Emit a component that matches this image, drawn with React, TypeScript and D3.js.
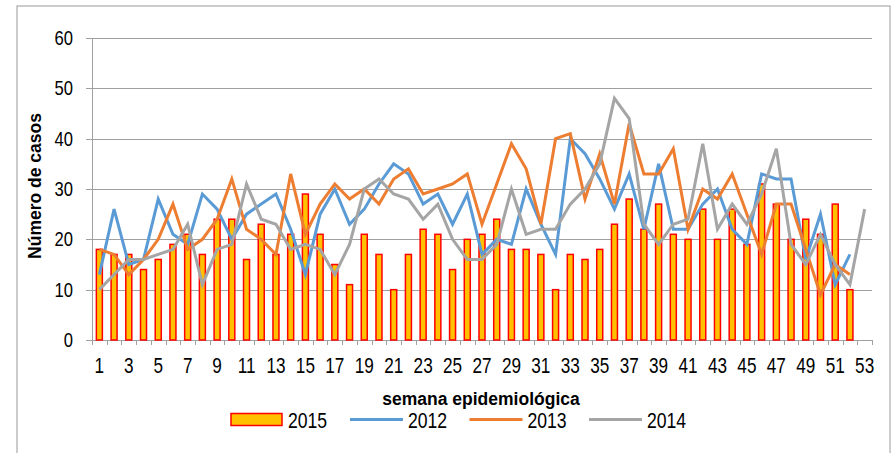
import React from "react";
import * as d3 from "d3";

const weeks: number[] = Array.from({ length: 53 }, (_, i) => i + 1);
const tickLabels: number[] = [1,3,5,7,9,11,13,15,17,19,21,23,25,27,29,31,33,35,37,39,41,43,45,47,49,51,53];
const yTicks: number[] = [0, 10, 20, 30, 40, 50, 60];

const cases2015: (number | null)[] = [18,17,17,14,16,19,21,17,24,24,16,23,17,21,29,21,15,11,21,17,10,17,22,21,14,20,21,24,18,18,17,10,17,16,18,23,28,22,27,21,20,26,20,26,19,31,27,20,24,21,27,10,null];
const cases2012: (number | null)[] = [13,26,15,16,28,21,19,29,26,20,25,27,29,22,13,25,30,23,26,31,35,33,27,29,23,29,17,20,19,30,23,17,40,37,32,26,33,22,35,22,22,27,30,22,19,33,32,32,16,25,11,17,null];
const cases2013: (number | null)[] = [18,17,13,16,20,27,18,20,24,32,22,20,17,33,21,27,31,28,30,27,32,34,29,30,31,33,23,31,39,34,23,40,41,28,37,27,43,33,33,38,22,30,28,33,25,17,27,27,18,9,15,13,null];
const cases2014: (number | null)[] = [10,13,16,16,17,18,23,11,18,19,31,24,23,18,19,18,13,19,30,32,29,28,24,27,20,16,16,19,30,21,22,22,27,30,35,48,44,23,19,23,24,39,22,27,23,29,38,19,15,21,15,11,26];

const seriesNames = ["2015", "2012", "2013", "2014"];
const lineColors: Record<string, string> = { "2012": "#5B9BD5", "2013": "#ED7D31", "2014": "#A5A5A5" };

const W = 892, H = 453;
const left = 92, right = 872, top = 38, bottom = 340;

const textFont = "'Liberation Sans', Arial, sans-serif";

function NarrowText(props: { x: number; y: number; size: number; sx: number; anchor?: string; children: React.ReactNode }) {
  return (
    <text
      transform={`translate(${props.x},${props.y}) scale(${props.sx},1)`}
      textAnchor={props.anchor || "start"}
      fontFamily={textFont}
      fontSize={props.size}
      fill="#000"
    >
      {props.children}
    </text>
  );
}

export default function App() {
  const x = d3.scaleBand<number>().domain(weeks).range([left, right]).padding(0);
  const y = d3.scaleLinear().domain([0, 60]).range([bottom, top]);
  const bw = 6;
  const cx = (w: number) => (x(w) as number) + x.bandwidth() / 2;

  const lineGen = d3
    .line<number | null>()
    .defined((d) => d !== null)
    .x((_, i) => cx(weeks[i]))
    .y((d) => y(d as number));

  const lines: [string, (number | null)[]][] = [
    ["2012", cases2012],
    ["2013", cases2013],
    ["2014", cases2014],
  ];

  const boundaries = weeks.map((w) => x(w) as number).concat([right]);

  return (
    <svg width={W} height={H} style={{ position: "absolute", left: 0, top: 0, background: "#fff" }}>
      <rect x={17} y={6} width={873} height={460} fill="#fff" stroke="#9a9a9a" strokeWidth={1} />
      {yTicks.filter((t) => t > 0).map((t) => (
        <line key={t} x1={left} x2={right} y1={Math.round(y(t)) + 0.5} y2={Math.round(y(t)) + 0.5} stroke="#a0a0a0" strokeWidth={1} />
      ))}
      <line x1={left + 0.5} x2={left + 0.5} y1={top} y2={bottom} stroke="#a0a0a0" />
      <line x1={left - 6} x2={right} y1={bottom + 0.5} y2={bottom + 0.5} stroke="#a0a0a0" />
      {yTicks.map((t) => (
        <line key={"yt" + t} x1={left - 6} x2={left} y1={Math.round(y(t)) + 0.5} y2={Math.round(y(t)) + 0.5} stroke="#a0a0a0" />
      ))}
      {boundaries.map((b, i) => (
        <line key={"xt" + i} x1={Math.round(b) + 0.5} x2={Math.round(b) + 0.5} y1={bottom} y2={bottom + 5} stroke="#a0a0a0" />
      ))}
      {yTicks.map((t) => (
        <NarrowText key={"yl" + t} x={73} y={y(t) + 7} size={20} sx={0.83} anchor="end">
          {t}
        </NarrowText>
      ))}
      {tickLabels.map((w) => (
        <NarrowText key={"xl" + w} x={cx(w)} y={372.5} size={22} sx={0.78} anchor="middle">
          {w}
        </NarrowText>
      ))}
      {weeks.map((w, i) =>
        cases2015[i] === null ? null : (
          <rect
            key={"b" + w}
            x={cx(w) - bw / 2}
            y={y(cases2015[i] as number)}
            width={bw}
            height={bottom - y(cases2015[i] as number)}
            fill="#FFC000"
            stroke="#FF0000"
            strokeWidth={1.5}
          />
        )
      )}
      {lines.map(([name, data]) => (
        <path key={name} d={lineGen(data) || ""} fill="none" stroke={lineColors[name]} strokeWidth={3} strokeLinejoin="miter" />
      ))}
      <text x={481} y={405} textAnchor="middle" fontFamily={textFont} fontWeight="bold" fontSize={17.5} fill="#000">
        semana epidemiológica
      </text>
      <text transform={`translate(41,${186}) rotate(-90)`} textAnchor="middle" fontFamily={textFont} fontWeight="bold" fontSize={17.5} fill="#000">
        Número de casos
      </text>
      <rect x={231} y={413.5} width={51} height={12} fill="#FFC000" stroke="#FF0000" strokeWidth={1.5} />
      <NarrowText x={288} y={427.5} size={22} sx={0.8}>{seriesNames[0]}</NarrowText>
      {["2012", "2013", "2014"].map((n, i) => {
        const lx = 350 + i * 119.5;
        return (
          <g key={"lg" + n}>
            <line x1={lx} x2={lx + 53} y1={419.5} y2={419.5} stroke={lineColors[n]} strokeWidth={3} />
            <NarrowText x={lx + 58} y={427.5} size={22} sx={0.8}>{n}</NarrowText>
          </g>
        );
      })}
    </svg>
  );
}
